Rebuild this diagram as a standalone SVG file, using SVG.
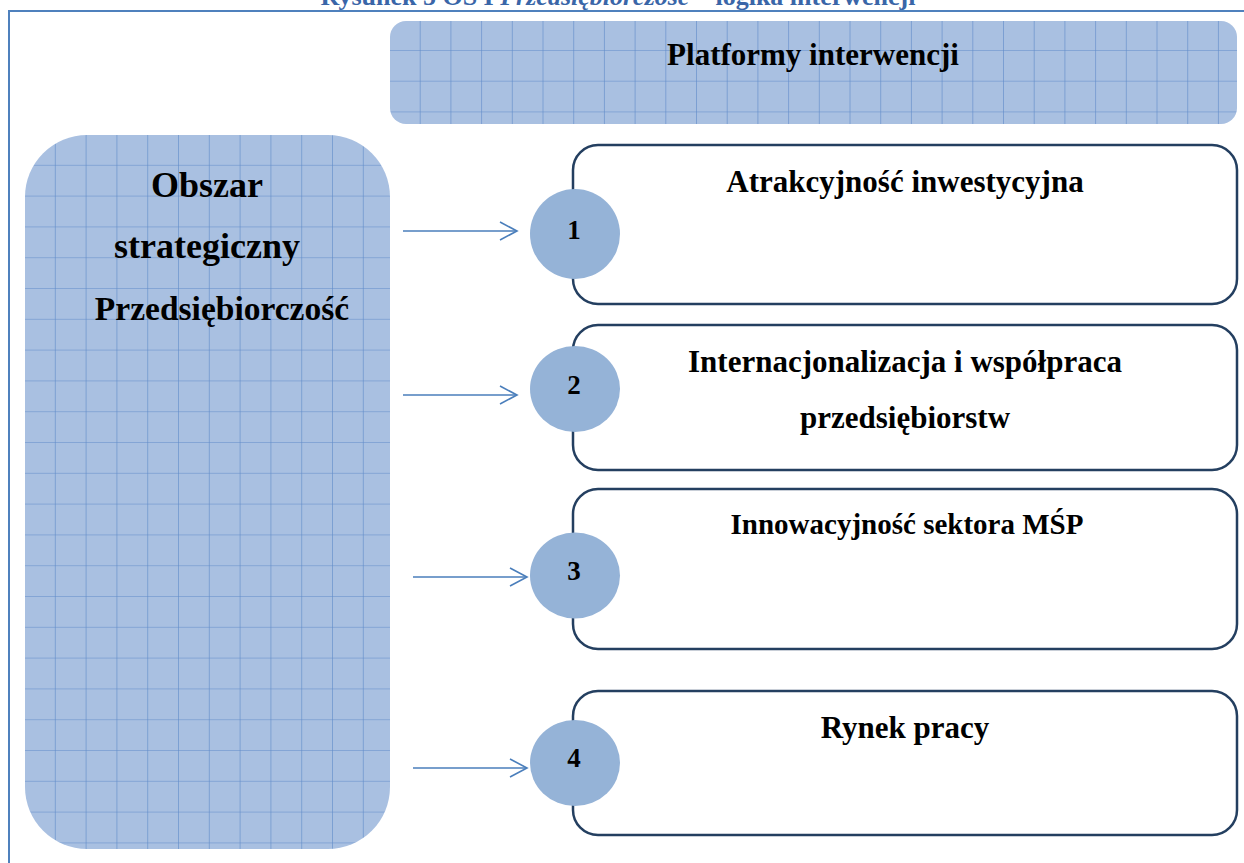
<svg xmlns="http://www.w3.org/2000/svg" width="1244" height="863" viewBox="0 0 1244 863">
  <style>
    .t { font-family: "Liberation Serif", "Times New Roman", serif; font-weight: bold; fill: #000; text-anchor: middle; }
    .n { font-size: 27px; }
    .box { fill: #ffffff; stroke: #243f60; stroke-width: 2.5; }
    .num { fill: #95b3d7; }
    .arr { stroke: #4a7ebb; stroke-width: 1.6; fill: none; }
    .frame { stroke: #4f81bd; stroke-width: 2; fill: none; }
  </style>
  <defs>
    <pattern id="gridLeft" patternUnits="userSpaceOnUse" x="25" y="135" width="30.8" height="30.8">
      <rect width="30.8" height="30.8" fill="#a9c0e1"/>
      <path d="M30.8,0 V30.8 M0,30.8 H30.8" stroke="#5f8bc9" stroke-width="1.2" fill="none"/>
    </pattern>
    <pattern id="gridTop" patternUnits="userSpaceOnUse" x="390" y="20.3" width="30.7" height="30.7">
      <rect width="30.7" height="30.7" fill="#a9c0e1"/>
      <path d="M30.7,0 V30.7 M0,30.7 H30.7" stroke="#5f8bc9" stroke-width="1.2" fill="none"/>
    </pattern>
    <marker id="chev" markerUnits="userSpaceOnUse" markerWidth="22" markerHeight="22" refX="18" refY="10" orient="auto" viewBox="0 0 22 22">
      <path d="M1,1 L18,10 L1,19" stroke="#4a7ebb" stroke-width="1.6" fill="none"/>
    </marker>
  </defs>

  <g id="title">
    <text x="618" y="5" font-family="Liberation Serif, serif" font-weight="bold" font-size="26" fill="#3a66a8" text-anchor="middle">Rysunek 5 OS I <tspan font-style="italic">Przedsiębiorczość</tspan> – logika interwencji</text>
    <path class="frame" d="M9,863 V11 H1244"/>
  </g>

  <g id="platformy">
    <rect x="390" y="21" width="847" height="103" rx="16" ry="16" fill="url(#gridTop)"/>
    <text class="t" x="813" y="65" font-size="31">Platformy interwencji</text>
  </g>

  <g id="obszar">
    <rect x="25" y="135" width="365" height="714" rx="62" ry="62" fill="url(#gridLeft)"/>
    <text class="t" x="207" y="197" font-size="36">Obszar</text>
    <text class="t" x="207" y="258" font-size="36">strategiczny</text>
    <text class="t" x="222" y="320" font-size="33.5">Przedsiębiorczość</text>
  </g>

  <g id="connectors">
    <line class="arr" x1="403" y1="231" x2="517" y2="231" marker-end="url(#chev)"/>
    <line class="arr" x1="403" y1="395" x2="517" y2="395" marker-end="url(#chev)"/>
    <line class="arr" x1="413" y1="577" x2="527" y2="577" marker-end="url(#chev)"/>
    <line class="arr" x1="413" y1="768" x2="527" y2="768" marker-end="url(#chev)"/>
  </g>

  <g id="platforma1">
    <rect class="box" x="573" y="145" width="664" height="159" rx="25" ry="25"/>
    <ellipse class="num" cx="575" cy="234" rx="45" ry="45"/>
    <text class="t n" x="574" y="239">1</text>
    <text class="t" x="905" y="192" font-size="31">Atrakcyjność inwestycyjna</text>
  </g>

  <g id="platforma2">
    <rect class="box" x="573" y="325" width="664" height="145" rx="25" ry="25"/>
    <ellipse class="num" cx="575" cy="389" rx="45" ry="43"/>
    <text class="t n" x="574" y="394">2</text>
    <text class="t" x="905" y="372" font-size="31">Internacjonalizacja i współpraca</text>
    <text class="t" x="905" y="428" font-size="31">przedsiębiorstw</text>
  </g>

  <g id="platforma3">
    <rect class="box" x="573" y="489" width="664" height="160" rx="25" ry="25"/>
    <ellipse class="num" cx="575" cy="575.5" rx="45" ry="43"/>
    <text class="t n" x="574" y="580">3</text>
    <text class="t" x="907" y="534" font-size="29">Innowacyjność sektora MŚP</text>
  </g>

  <g id="platforma4">
    <rect class="box" x="573" y="691" width="664" height="144" rx="25" ry="25"/>
    <ellipse class="num" cx="575" cy="763" rx="45" ry="43"/>
    <text class="t n" x="574" y="767">4</text>
    <text class="t" x="905" y="738" font-size="31">Rynek pracy</text>
  </g>
</svg>
